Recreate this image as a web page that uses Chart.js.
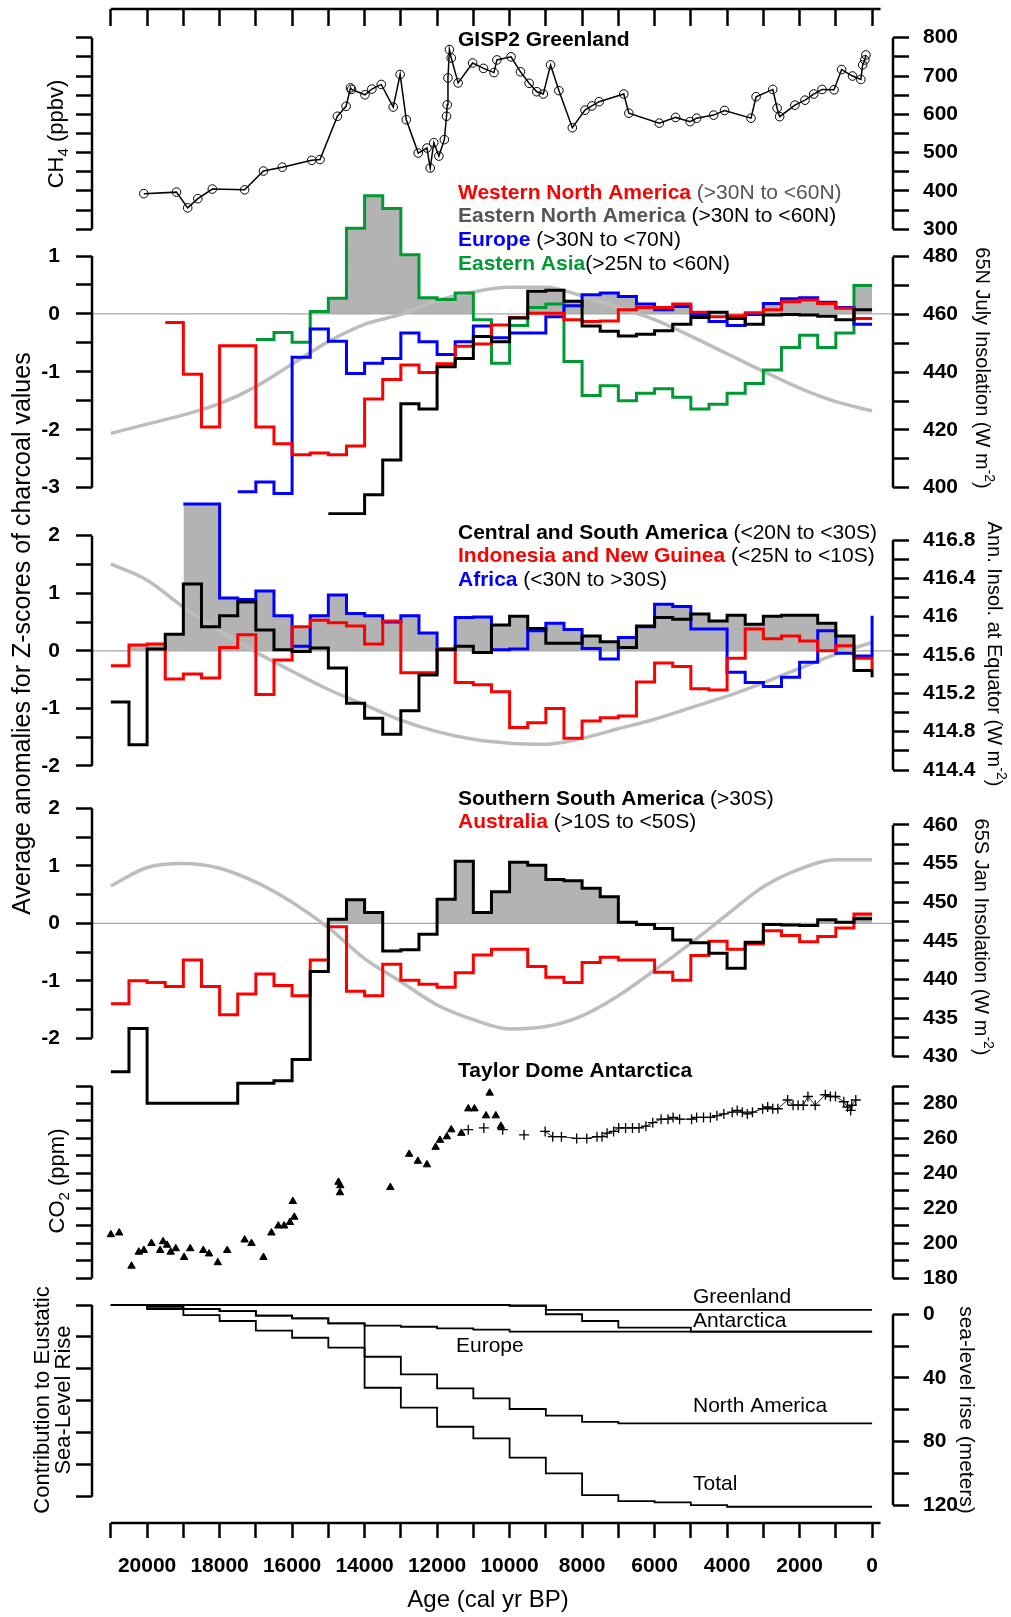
<!DOCTYPE html>
<html>
<head>
<meta charset="utf-8">
<title>Charcoal anomalies, CH4, CO2 and sea level since 21 ka</title>
<script src="https://cdn.jsdelivr.net/npm/chart.js@4.4.1/dist/chart.umd.min.js"></script>
<style>
  html, body { margin: 0; padding: 0; background: #fff; }
  #fig { position: relative; width: 1011px; height: 1617px; overflow: hidden; }
  #fig canvas { position: absolute; left: 0; }
</style>
</head>
<body>
<div id="fig"></div>
<script>
// ---------- data (ages in cal yr BP) ----------
const ageTicks = [21000, 20000, 19000, 18000, 17000, 16000, 15000, 14000, 13000, 12000, 11000,
                  10000, 9000, 8000, 7000, 6000, 5000, 4000, 3000, 2000, 1000, 0];
const ageLabels = [20000, 18000, 16000, 14000, 12000, 10000, 8000, 6000, 4000, 2000, 0];

// GISP2 methane
const ch4Age = [20090, 19190, 18880, 18600, 18200, 17310, 16790, 16270, 15460, 15230, 14750, 14510, 14390, 14360,
  13990, 13800, 13540, 13210, 13020, 12850, 12520, 12280, 12190, 12090, 11950, 11800, 11740, 11720, 11700, 11660,
  11610, 11420, 11020, 10720, 10430, 10350, 9960, 9700, 9460, 9250, 9070, 8870, 8640, 8270, 7920, 7730, 7530,
  6850, 6710, 5870, 5420, 5020, 4840, 4370, 4070, 3340, 3200, 2740, 2620, 2550, 2130, 1850, 1610, 1380, 1050,
  840, 540, 310, 260, 200, 170];
const ch4Val = [393, 397, 356, 380, 405, 403, 452, 462, 480, 482, 595, 621, 669, 665,
  651, 666, 678, 619, 704, 586, 499, 512, 460, 526, 491, 534, 595, 625, 695, 769,
  747, 682, 734, 720, 709, 742, 750, 711, 681, 659, 653, 729, 662, 565, 611, 622, 633,
  653, 603, 577, 592, 581, 590, 598, 610, 590, 646, 665, 616, 594, 624, 637, 653, 665, 664,
  717, 700, 691, 729, 742, 755];
const ch4Ticks = [300, 350, 400, 450, 500, 550, 600, 650, 700, 750, 800];
const ch4Labels = [300, 400, 500, 600, 700, 800];

// charcoal z-score anomalies, 500-yr bins, first bin starts at the given age
const binWidth = 500;
const wnaStart = 19500;   // Western North America
const wnaVals = [-0.15, -1.04, -1.95, -0.55, -0.55, -1.95, -2.24, -2.43, -2.40, -2.43, -2.28, -1.47, -1.13, -0.88,
  -1.01, -0.86, -0.56, -0.52, -0.19, -0.06, 0.01, 0.01, -0.10, -0.13, -0.12, 0.07, 0.11, 0.11, 0.17, 0.03,
  -0.05, -0.03, 0.02, 0.07, 0.21, 0.24, 0.18, 0.10, -0.08];
const enaStart = 15000;   // Eastern North America
const enaVals = [-3.45, -3.45, -3.12, -2.52, -1.55, -1.64, -0.91, -0.77, -0.39, -0.48, -0.07, 0.39, 0.41, 0.22,
  -0.21, -0.30, -0.38, -0.35, -0.29, -0.18, -0.06, 0.03, -0.08, -0.18, -0.02, -0.01, -0.02, -0.04, -0.10, 0.07];
const eurStart = 17500;   // Europe
const eurVals = [-3.07, -2.90, -3.10, -0.75, -0.26, -0.47, -1.03, -0.85, -0.77, -0.33, -0.48, -0.70, -0.48, -0.21,
  -0.41, -0.33, -0.33, -0.05, 0.14, 0.33, 0.36, 0.30, 0.17, 0.07, 0.13, -0.01, -0.13, -0.20, -0.01, 0.18,
  0.26, 0.28, 0.20, 0.11, -0.18];
const easStart = 17000;   // Eastern Asia
const easVals = [-0.44, -0.32, -0.49, 0.04, 0.27, 1.48, 2.04, 1.82, 1.02, 0.28, 0.25, 0.36, -0.10, -0.85, -0.20,
  0.11, 0.17, -0.82, -1.41, -1.24, -1.50, -1.37, -1.29, -1.44, -1.64, -1.56, -1.37, -1.20, -0.97, -0.58,
  -0.37, -0.58, -0.33, 0.49];

const csaStart = 21000;   // Central and South America
const csaVals = [-0.89, -1.63, 0.03, 0.29, 1.16, 0.42, 0.61, 0.85, 0.36, 0.02, -0.01, 0.05, -0.30, -0.91, -1.17,
  -1.45, -1.04, -0.42, 0.02, 0.08, -0.03, 0.45, 0.60, 0.39, 0.13, 0.13, 0.26, 0.16, 0.06, 0.43, 0.58, 0.55,
  0.64, 0.52, 0.62, 0.46, 0.60, 0.62, 0.62, 0.48, 0.26, -0.34];
const csaEnd = -0.46;
const indStart = 21000;   // Indonesia and New Guinea
const indVals = [-0.26, 0.10, 0.12, -0.49, -0.40, -0.47, 0.06, 0.28, -0.76, -0.16, 0.42, 0.53, 0.49, 0.43, 0.12,
  0.52, -0.38, -0.38, 0.03, -0.55, -0.59, -0.71, -1.33, -1.25, -1.00, -1.52, -1.22, -1.16, -1.13, -0.54,
  -0.21, -0.27, -0.66, -0.68, -0.13, 0.38, 0.21, 0.26, 0.17, 0.00, 0.09, -0.13];
const indEnd = -0.32;
const afrStart = 19000;   // Africa
const afrVals = [2.55, 2.55, 0.92, 0.89, 1.04, 0.61, 0.08, 0.61, 0.97, 0.65, 0.61, 0.50, 0.61, 0.31, 0.03, 0.58,
  0.59, 0.02, 0.03, 0.35, 0.48, 0.37, 0.04, -0.14, 0.23, 0.42, 0.81, 0.77, 0.38, 0.38, -0.37, -0.55, -0.62,
  -0.46, -0.20, 0.35, -0.04, -0.09];
const afrEnd = 0.61;

const ssaStart = 21000;   // Southern South America
const ssaVals = [-2.58, -1.83, -3.13, -3.13, -3.13, -3.13, -3.13, -2.78, -2.78, -2.74, -2.37, -0.84, 0.07, 0.41,
  0.19, -0.48, -0.46, -0.19, 0.42, 1.08, 0.19, 0.55, 1.06, 1.01, 0.76, 0.74, 0.61, 0.46, 0.02, -0.02, -0.09,
  -0.29, -0.34, -0.52, -0.78, -0.33, -0.02, -0.03, -0.04, 0.06, 0.02, 0.08];
const ausStart = 21000;   // Australia
const ausVals = [-1.40, -1.00, -1.03, -1.10, -0.64, -1.10, -1.59, -1.23, -0.88, -1.08, -1.26, -0.64, -0.06, -1.18,
  -1.26, -0.71, -0.99, -1.06, -1.11, -0.86, -0.55, -0.45, -0.45, -0.75, -0.94, -1.03, -0.68, -0.59, -0.64,
  -0.64, -0.85, -0.99, -0.56, -0.31, -0.45, -0.36, -0.13, -0.21, -0.32, -0.23, -0.08, 0.16];

const zTicksN = [-3, -2.5, -2, -1.5, -1, -0.5, 0, 0.5, 1];
const zLabelsN = [-3, -2, -1, 0, 1];
const zTicks = [-2, -1.5, -1, -0.5, 0, 0.5, 1, 1.5, 2];
const zLabels = [-2, -1, 0, 1, 2];

// insolation curves (W m-2), one value per 1000 yr
const insolAge = [21000, 20000, 19000, 18000, 17000, 16000, 15000, 14000, 13000, 12000, 11000,
                  10000, 9000, 8000, 7000, 6000, 5000, 4000, 3000, 2000, 1000, 0];
const insol65NJul = [418.8, 422.0, 425.2, 429.1, 435.0, 442.8, 450.6, 456.6, 460.0, 464.8, 467.8,
                     469.4, 469.4, 466.4, 462.5, 458.2, 452.5, 446.4, 440.3, 434.5, 429.8, 426.6];
const insolEqAnn = [416.55, 416.38, 416.10, 415.85, 415.63, 415.43, 415.24, 415.08, 414.92, 414.80, 414.72,
                    414.68, 414.67, 414.73, 414.83, 414.93, 415.05, 415.17, 415.31, 415.46, 415.61, 415.73];
const insol65SJan = [452.1, 454.5, 455.0, 454.4, 452.6, 450.0, 446.7, 442.7, 439.7, 436.7, 434.8,
                     433.6, 433.9, 435.3, 437.9, 441.2, 444.7, 448.4, 452.0, 454.3, 455.5, 455.5];
const ins65NTicks = [400, 410, 420, 430, 440, 450, 460, 470, 480];
const ins65NLabels = [400, 420, 440, 460, 480];
const insEqTicks = [414.4, 414.6, 414.8, 415, 415.2, 415.4, 415.6, 415.8, 416, 416.2, 416.4, 416.6, 416.8];
const insEqLabels = [414.4, 414.8, 415.2, 415.6, 416, 416.4, 416.8];
const ins65STicks = [430, 432.5, 435, 437.5, 440, 442.5, 445, 447.5, 450, 452.5, 455, 457.5, 460];
const ins65SLabels = [430, 435, 440, 445, 450, 455, 460];

// Taylor Dome CO2 (ppm)
const co2TriAge = [21000, 20770, 20430, 20230, 20090, 19880, 19640, 19560, 19450, 19350, 19210, 18980, 18810,
  18450, 18290, 18050, 17790, 17310, 17120, 16790, 16570, 16380, 16220, 16060, 15940, 15980, 14720, 14670,
  14680, 13290, 12770, 12530, 12280, 12040, 11920, 11730, 11610, 11330, 11140, 10970, 10650, 10380, 10550, 10240];
const co2TriVal = [205, 206, 187, 195, 196, 200, 196, 201, 199, 195, 197, 192, 197,
  196, 194, 189, 196, 202, 200, 192, 206, 210, 210, 212, 215, 224, 235, 233,
  229, 232, 251, 247, 245, 255, 259, 261, 265, 263, 277, 277, 273, 273, 286, 267];
const co2PlusAge = [11140, 10710, 10190, 9600, 9020, 8810, 8570, 8150, 7870, 7590, 7450, 7310, 7130, 6990, 6800,
  6610, 6430, 6240, 6050, 5820, 5630, 5490, 5310, 4980, 4840, 4650, 4460, 4280, 4090, 3860, 3720, 3580, 3440,
  3300, 3020, 2880, 2740, 2600, 2330, 2180, 2040, 1900, 1770, 1570, 1290, 1150, 1010, 780, 680, 590, 560, 450];
const co2PlusVal = [265, 266, 265, 262, 264, 261, 261, 260, 260, 261, 261, 263, 264, 266, 266,
  266, 266, 267, 269, 271, 271, 272, 271, 271, 272, 272, 272, 273, 274, 275, 276, 275, 274,
  275, 277, 278, 277, 277, 282, 279, 279, 279, 284, 279, 285, 284, 284, 281, 278, 276, 279, 282];
const co2Ticks = [180, 190, 200, 210, 220, 230, 240, 250, 260, 270, 280, 290];
const co2Labels = [180, 200, 220, 240, 260, 280];

// contribution to eustatic sea-level rise (m), 1000-yr steps starting 21000
const slWidth = 1000;
const slStart = 21000;
const slGreenland = [0, 0, 0, 0, 0, 0, 0, 0, 0, 0, 0, 0.3, 3.1, 3.1, 3.1, 3.1, 3.1, 3.1, 3.1, 3.1, 3.1];
const slAntarctica = [0, 0, 0, 0, 0, 0, 0, 0, 0, 0, 0, 0.5, 5.8, 10.0, 14.2, 14.2, 16.7, 16.7, 16.7, 16.7, 16.7];
const slEurope = [0, 1.0, 2.5, 3.8, 6.7, 8.4, 11.5, 12.9, 13.6, 14.6, 15.4, 16.7, 16.7, 16.7, 16.7, 16.7, 16.7, 16.7, 16.7, 16.7, 16.7];
const slNorthAmerica = [0, 1.0, 2.5, 3.8, 6.7, 8.4, 11.5, 32.4, 43.4, 52.2, 58.5, 65.1, 69.3, 73.1, 74.1, 74.1, 74.1, 74.1, 74.1, 74.1, 74.1];
const slTotal = [0, 2.5, 6.3, 10.0, 16.1, 20.5, 26.7, 51.8, 64.3, 76.2, 83.5, 95.6, 105.4, 119.0, 122.8, 123.6, 125.3, 126.3, 126.3, 126.3, 126.3];
const slTicks = [0, 20, 40, 60, 80, 100, 120];
const slLabels = [0, 40, 80, 120];

// ---------- look ----------
const FONT = '"Liberation Sans", Arial, Helvetica, sans-serif';
Chart.defaults.font.family = FONT;
Chart.defaults.color = '#000';
const RED = '#ff0000', BLUE = '#0000ff', GREEN = '#009933', SHADE = '#b3b3b3', INSOL = '#bdbdbd';
const LEFT_W = 92, RIGHT_W = 118, X_MIN = -577, X_MAX = 21520, AXIS_END = -234;
const fig = document.getElementById('fig');

// value v1 sits at page pixel p1 and v2 at p2; give the axis range for a canvas top..top+h
function span(top, h, v1, p1, v2, p2) {
  const k = (v2 - v1) / (p2 - p1);
  const a = v1 + (top - p1) * k, b = v1 + (top + h - p1) * k;
  return a > b ? {min: b, max: a, reverse: false} : {min: a, max: b, reverse: true};
}
function steps(start, width, vals, tail) {
  const out = vals.map((v, i) => ({x: start - i * width, y: v}));
  out.push({x: start - vals.length * width, y: tail === undefined ? vals[vals.length - 1] : tail});
  return out;
}
function pts(xs, ys) { return xs.map((x, i) => ({x: x, y: ys[i]})); }
function near(list, v) { return list.some(l => Math.abs(l - v) < 1e-6); }

function yAxis(pos, rng, tickVals, labelVals) {
  const left = pos === 'left';
  return {
    type: 'linear', position: pos, min: rng.min, max: rng.max, reverse: rng.reverse, bounds: 'data',
    // fixed width, and no label padding so the chart area fills the canvas height
    afterFit: s => { s.width = left ? LEFT_W : RIGHT_W; s.paddingTop = 0; s.paddingBottom = 0; },
    afterBuildTicks: s => { s.ticks = tickVals.map(v => ({value: v})); },
    border: {display: false},
    grid: {drawOnChartArea: false, drawTicks: true, tickLength: 16, tickWidth: 2.5, tickColor: '#000'},
    ticks: {autoSkip: false, padding: left ? 16 : 14, color: '#000', font: {size: 21, weight: 'bold'},
            callback: v => near(labelVals, v) ? String(v) : ''}
  };
}
function xHidden() {
  return {type: 'linear', display: false, min: X_MIN, max: X_MAX, reverse: true, bounds: 'data'};
}
function xAge(height, tickLen, pad, labels) {
  return {
    type: 'linear', position: 'bottom', min: X_MIN, max: X_MAX, reverse: true, bounds: 'data',
    afterFit: s => { s.height = height; s.paddingLeft = 0; s.paddingRight = 0; },
    afterBuildTicks: s => { s.ticks = ageTicks.map(v => ({value: v})); },
    border: {display: false},
    grid: {drawOnChartArea: false, drawTicks: true, tickLength: tickLen, tickWidth: 2.5, tickColor: '#000'},
    ticks: {autoSkip: false, maxRotation: 0, minRotation: 0, padding: pad, color: '#000',
            font: {size: 21, weight: 'bold'},
            callback: v => near(labels, v) ? String(v) : ''}
  };
}

function stepSet(data, color) {
  return {data: data, borderColor: color, borderWidth: 3, stepped: true, pointRadius: 0, yAxisID: 'y',
          borderJoinStyle: 'miter', fill: {target: {value: 0}, above: SHADE, below: 'rgba(0,0,0,0)'}};
}
function insolSet(vals) {
  return {data: pts(insolAge, vals), borderColor: INSOL, borderWidth: 3.5, pointRadius: 0,
          cubicInterpolationMode: 'monotone', fill: false, yAxisID: 'y2'};
}
function seaSet(vals) {
  return {data: steps(slStart, slWidth, vals), borderColor: '#000', borderWidth: 1.8, stepped: true,
          pointRadius: 0, fill: false, yAxisID: 'y'};
}

function drawText(ctx, t, top) {
  const size = t.size || 21;
  const fontFor = r => (r.b ? 'bold ' : '') + Math.round((r.sub || r.sup) ? size * 0.68 : size) + 'px ' + FONT;
  ctx.save();
  ctx.translate(t.x, t.y - top);
  if (t.rot) ctx.rotate(t.rot * Math.PI / 180);
  ctx.textBaseline = 'middle';
  ctx.textAlign = 'left';
  let w = 0;
  t.runs.forEach(r => { ctx.font = fontFor(r); w += ctx.measureText(r.s).width; });
  let x = t.align === 'center' ? -w / 2 : (t.align === 'right' ? -w : 0);
  t.runs.forEach(r => {
    ctx.font = fontFor(r);
    ctx.fillStyle = r.c || '#000';
    const dy = r.sub ? size * 0.3 : (r.sup ? -size * 0.35 : 0);
    ctx.fillText(r.s, x, dy);
    x += ctx.measureText(r.s).width;
  });
  ctx.restore();
}

// zero line, axis lines that cover only the panel's range, and text
function decor(cfg) {
  return {
    id: 'decor',
    beforeDatasetsDraw(chart) {
      if (!cfg.zero) return;
      const ctx = chart.ctx, a = chart.chartArea, y = chart.scales.y.getPixelForValue(0);
      ctx.save();
      ctx.strokeStyle = '#a8a8a8';
      ctx.lineWidth = 1.2;
      ctx.beginPath(); ctx.moveTo(a.left, y); ctx.lineTo(a.right, y); ctx.stroke();
      ctx.restore();
    },
    afterDraw(chart) {
      const ctx = chart.ctx;
      ctx.save();
      ctx.strokeStyle = '#000';
      ctx.lineWidth = 2.5;
      Object.keys(cfg.lines || {}).forEach(id => {
        const s = chart.scales[id], r = cfg.lines[id];
        ctx.beginPath();
        if (s.isHorizontal()) {
          ctx.moveTo(s.getPixelForValue(r[0]), s.top);
          ctx.lineTo(s.getPixelForValue(r[1]), s.top);
        } else {
          const x = s.position === 'left' ? s.right : s.left;
          ctx.moveTo(x, s.getPixelForValue(r[0]));
          ctx.lineTo(x, s.getPixelForValue(r[1]));
        }
        ctx.stroke();
      });
      ctx.restore();
      (cfg.texts || []).forEach(t => drawText(ctx, t, cfg.top));
    }
  };
}

function panel(cfg) {
  const c = document.createElement('canvas');
  c.width = 1011; c.height = cfg.height;
  c.style.top = cfg.top + 'px';
  c.style.width = '1011px'; c.style.height = cfg.height + 'px';
  fig.appendChild(c);
  return new Chart(c, {
    type: 'line',
    data: {datasets: cfg.datasets || []},
    options: {
      responsive: false, animation: false, devicePixelRatio: 1, events: [],
      layout: {autoPadding: false, padding: cfg.padding || 0},
      scales: cfg.scales,
      plugins: {legend: {display: false}, tooltip: {enabled: false}, filler: {drawTime: 'beforeDatasetsDraw'}}
    },
    plugins: [decor(cfg)]
  });
}

// ---------- panel 1: GISP2 CH4 ----------
const p1 = {top: 20, height: 230};
const r1 = span(p1.top, p1.height, 800, 37.7, 300, 229.3);
panel(Object.assign(p1, {
  scales: {x: xHidden(), y: yAxis('left', r1, ch4Ticks, []), y2: yAxis('right', r1, ch4Ticks, ch4Labels)},
  lines: {y: [300, 800], y2: [300, 800]},
  datasets: [{data: pts(ch4Age, ch4Val), yAxisID: 'y2', borderColor: '#000', borderWidth: 1.5,
              pointStyle: 'circle', pointRadius: 4.3, pointBorderWidth: 1, pointBorderColor: '#000',
              pointBackgroundColor: 'rgba(0,0,0,0)', fill: false}],
  texts: [
    {x: 458, y: 40, runs: [{s: 'GISP2 Greenland', b: true}]},
    {x: 57, y: 134, rot: -90, align: 'center', size: 22, runs: [{s: 'CH'}, {s: '4', sub: true}, {s: ' (ppbv)'}]}
  ]
}));

// ---------- panel 2: northern extratropics ----------
const p2 = {top: 175, height: 340};
panel(Object.assign(p2, {
  zero: true,
  scales: {
    x: xHidden(),
    y: yAxis('left', span(p2.top, p2.height, 1, 256, -3, 487.7), zTicksN, zLabelsN),
    y2: yAxis('right', span(p2.top, p2.height, 480, 256.7, 400, 487.7), ins65NTicks, ins65NLabels)
  },
  lines: {y: [-3, 1], y2: [400, 480]},
  datasets: [
    stepSet(steps(enaStart, binWidth, enaVals), '#000'),
    stepSet(steps(wnaStart, binWidth, wnaVals), RED),
    stepSet(steps(eurStart, binWidth, eurVals), BLUE),
    stepSet(steps(easStart, binWidth, easVals), GREEN),
    insolSet(insol65NJul)
  ],
  texts: [
    {x: 458, y: 193.3, runs: [{s: 'Western North America', b: true, c: RED}, {s: ' (>30N to <60N)', c: '#555'}]},
    {x: 458, y: 216.7, runs: [{s: 'Eastern North America', b: true, c: '#555'}, {s: ' (>30N to <60N)'}]},
    {x: 458, y: 240, runs: [{s: 'Europe', b: true, c: BLUE}, {s: ' (>30N to <70N)'}]},
    {x: 458, y: 264.3, runs: [{s: 'Eastern Asia', b: true, c: GREEN}, {s: '(>25N to <60N)'}]},
    {x: 982, y: 368, rot: 90, align: 'center', size: 20,
     runs: [{s: '65N July Insolation (W m'}, {s: '-2', sup: true}, {s: ')'}]}
  ]
}));

// ---------- panel 3: tropics ----------
const p3 = {top: 335, height: 600};
panel(Object.assign(p3, {
  zero: true,
  scales: {
    x: xHidden(),
    y: yAxis('left', span(p3.top, p3.height, 2, 535.7, -2, 766), zTicks, zLabels),
    y2: yAxis('right', span(p3.top, p3.height, 416.8, 540, 414.4, 770), insEqTicks, insEqLabels)
  },
  lines: {y: [-2, 2], y2: [414.4, 416.8]},
  datasets: [
    stepSet(steps(csaStart, binWidth, csaVals, csaEnd), '#000'),
    stepSet(steps(indStart, binWidth, indVals, indEnd), RED),
    stepSet(steps(afrStart, binWidth, afrVals, afrEnd), BLUE),
    insolSet(insolEqAnn)
  ],
  texts: [
    {x: 458, y: 533.3, runs: [{s: 'Central and South America', b: true}, {s: ' (<20N to <30S)'}]},
    {x: 458, y: 556.7, runs: [{s: 'Indonesia and New Guinea', b: true, c: RED}, {s: ' (<25N to <10S)'}]},
    {x: 458, y: 580, runs: [{s: 'Africa', b: true, c: BLUE}, {s: ' (<30N to >30S)'}]},
    {x: 994, y: 654, rot: 90, align: 'center', size: 20,
     runs: [{s: 'Ann. Insol. at Equator (W m'}, {s: '-2', sup: true}, {s: ')'}]},
    {x: 23, y: 633.5, rot: -90, align: 'center', size: 25,
     runs: [{s: 'Average anomalies for Z-scores of charcoal values'}]}
  ]
}));

// ---------- panel 4: southern extratropics ----------
const p4 = {top: 780, height: 340};
panel(Object.assign(p4, {
  zero: true,
  scales: {
    x: xHidden(),
    y: yAxis('left', span(p4.top, p4.height, 2, 808.3, -2, 1038.3), zTicks, zLabels),
    y2: yAxis('right', span(p4.top, p4.height, 460, 825, 430, 1056.7), ins65STicks, ins65SLabels)
  },
  lines: {y: [-2, 2], y2: [430, 460]},
  datasets: [
    stepSet(steps(ssaStart, binWidth, ssaVals), '#000'),
    stepSet(steps(ausStart, binWidth, ausVals), RED),
    insolSet(insol65SJan)
  ],
  texts: [
    {x: 458, y: 799.3, runs: [{s: 'Southern South America', b: true}, {s: ' (>30S)'}]},
    {x: 458, y: 822.7, runs: [{s: 'Australia', b: true, c: RED}, {s: ' (>10S to <50S)'}]},
    {x: 981, y: 937, rot: 90, align: 'center', size: 20,
     runs: [{s: '65S Jan Insolation (W m'}, {s: '-2', sup: true}, {s: ')'}]}
  ]
}));

// ---------- panel 5: Taylor Dome CO2 ----------
const p5 = {top: 1055, height: 240};
const r5 = span(p5.top, p5.height, 290, 1086, 180, 1278.3);
panel(Object.assign(p5, {
  scales: {x: xHidden(), y: yAxis('left', r5, co2Ticks, []), y2: yAxis('right', r5, co2Ticks, co2Labels)},
  lines: {y: [180, 290], y2: [180, 290]},
  datasets: [
    {data: pts(co2TriAge, co2TriVal), yAxisID: 'y2', showLine: false, pointStyle: 'triangle', pointRadius: 4.3,
     pointBackgroundColor: '#000', pointBorderColor: '#000', pointBorderWidth: 1},
    {data: pts(co2PlusAge, co2PlusVal), yAxisID: 'y2', showLine: true, borderWidth: 1, borderColor: '#000',
     segment: {borderColor: c => c.p0.parsed.x > 9100 ? 'rgba(0,0,0,0)' : '#222'},
     pointStyle: 'cross', pointRadius: 5, pointBorderColor: '#000', pointBorderWidth: 1.3, fill: false}
  ],
  texts: [
    {x: 458, y: 1071.7, runs: [{s: 'Taylor Dome Antarctica', b: true}]},
    {x: 58, y: 1181, rot: -90, align: 'center', size: 22, runs: [{s: 'CO'}, {s: '2', sub: true}, {s: ' (ppm)'}]}
  ]
}));

// ---------- panel 6: sea level ----------
const p6 = {top: 1280, height: 240};
panel(Object.assign(p6, {
  scales: {
    x: xHidden(),
    y: yAxis('left', span(p6.top, p6.height, 0, 1305, 120, 1496.7), slTicks, []),
    y2: yAxis('right', span(p6.top, p6.height, 0, 1314.3, 120, 1505), slTicks, slLabels)
  },
  lines: {y: [0, 120], y2: [0, 120]},
  datasets: [seaSet(slGreenland), seaSet(slAntarctica), seaSet(slEurope), seaSet(slNorthAmerica), seaSet(slTotal)],
  texts: [
    {x: 693, y: 1297, runs: [{s: 'Greenland'}]},
    {x: 693, y: 1321.7, runs: [{s: 'Antarctica'}]},
    {x: 456, y: 1346.7, runs: [{s: 'Europe'}]},
    {x: 693, y: 1406.7, runs: [{s: 'North America'}]},
    {x: 693, y: 1484, runs: [{s: 'Total'}]},
    {x: 43, y: 1400, rot: -90, align: 'center', size: 22, runs: [{s: 'Contribution to Eustatic'}]},
    {x: 64, y: 1400, rot: -90, align: 'center', size: 22, runs: [{s: 'Sea-Level Rise'}]},
    {x: 966, y: 1410, rot: 90, align: 'center', size: 21, runs: [{s: 'sea-level rise (meters)'}]}
  ]
}));

// ---------- age axes (top frame and bottom) ----------
panel({top: 0, height: 30, padding: {left: LEFT_W, right: RIGHT_W},
  scales: {x: xAge(21, 17, 4, []), y: {display: false}},
  lines: {x: [21000, AXIS_END]}});
panel({top: 1500, height: 117, padding: {left: LEFT_W, right: RIGHT_W},
  scales: {x: xAge(94, 15, 16, ageLabels), y: {display: false}},
  lines: {x: [21000, AXIS_END]},
  texts: [{x: 488, y: 1600, align: 'center', size: 24, runs: [{s: 'Age (cal yr BP)'}]}]});
</script>
</body>
</html>
